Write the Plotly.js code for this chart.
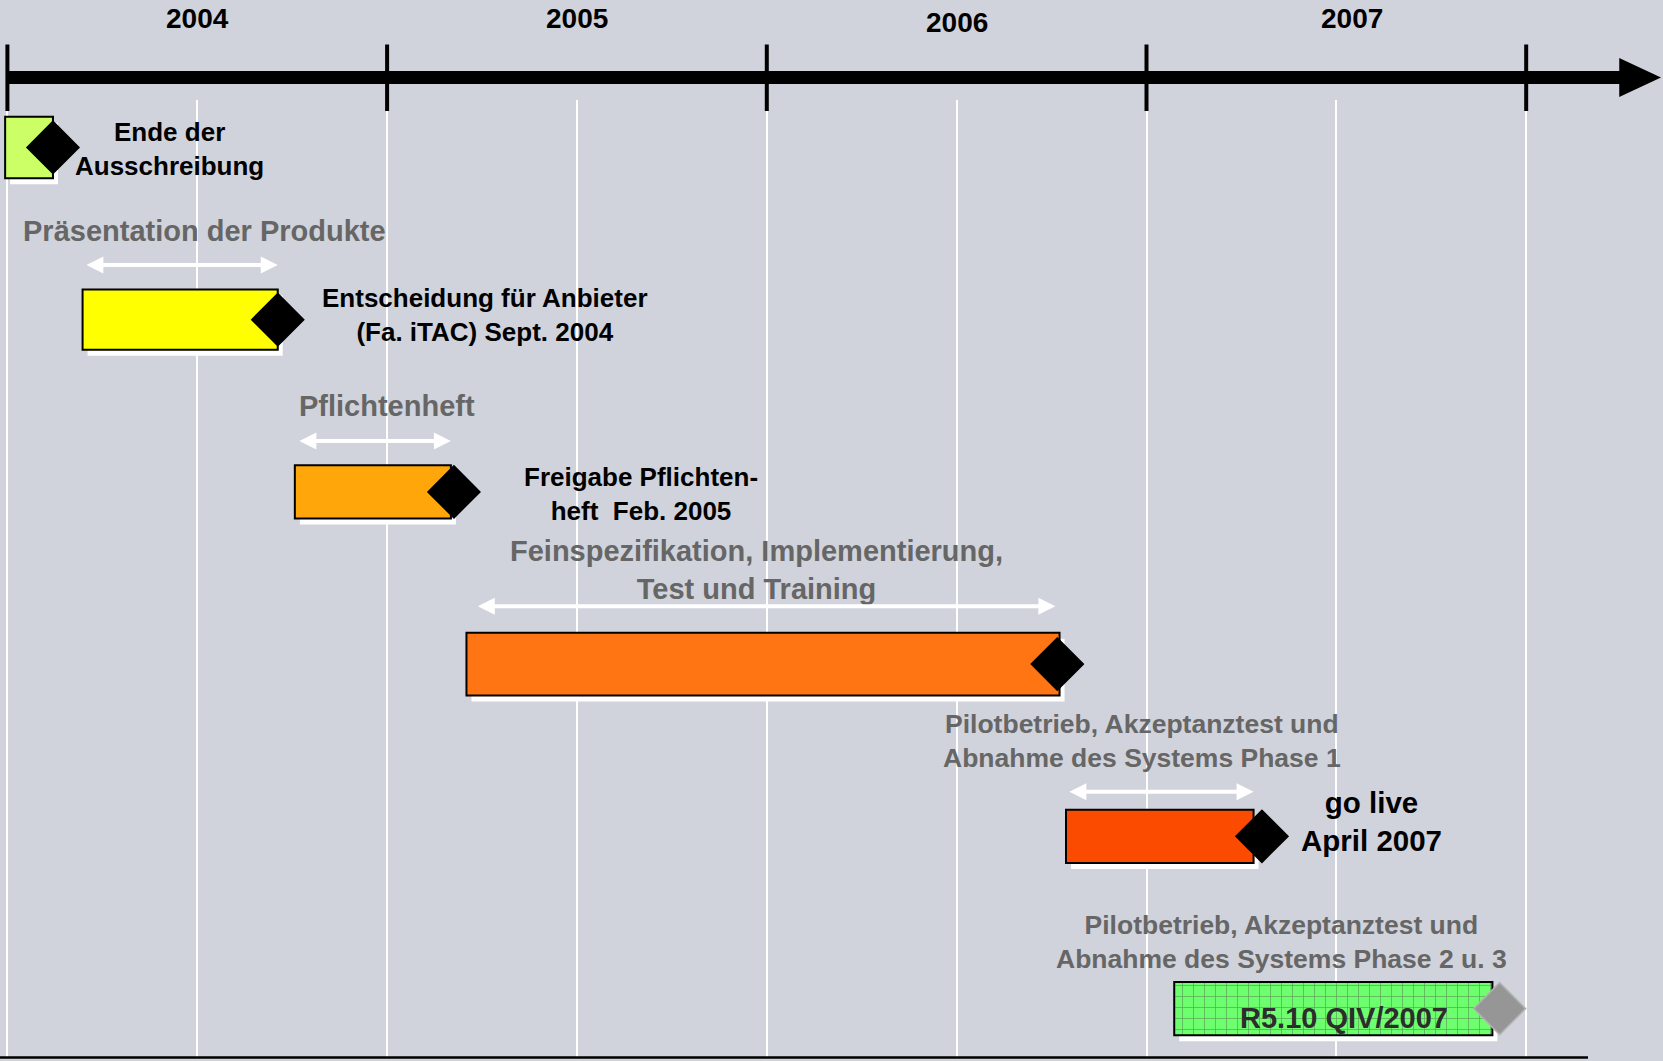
<!DOCTYPE html>
<html>
<head>
<meta charset="utf-8">
<script src="https://cdn.plot.ly/plotly-3.0.1.min.js"></script>
<style>
html,body{margin:0;padding:0;background:rgb(208,211,219);}
#chart{width:1663px;height:1061px;}
</style>
</head>
<body>
<div id="chart"></div>
<script>
// ---------------- DATA ----------------
const phases = ["Ausschreibung", "Präsentation der Produkte", "Pflichtenheft",
  "Feinspezifikation, Implementierung, Test und Training",
  "Pilotbetrieb Phase 1", "Pilotbetrieb Phase 2 u. 3"];
const phaseStart = [2003.994, 2004.198, 2004.757, 2005.209, 2006.788, 2007.073];
const phaseEnd   = [2004.120, 2004.712, 2005.168, 2006.771, 2007.282, 2007.911];
const milestoneDate = [2004.120, 2004.712, 2005.176, 2006.765, 2007.304, 2007.930];
const milestoneText = ["Ende der<br>Ausschreibung",
  "Entscheidung für Anbieter<br>(Fa. iTAC) Sept. 2004",
  "Freigabe Pflichten-<br>heft&nbsp; Feb. 2005",
  "",
  "go live<br>April 2007",
  "R5.10 QIV/2007"];
const phaseLabels = ["",
  "Präsentation der Produkte",
  "Pflichtenheft",
  "Feinspezifikation, Implementierung,<br>Test und Training",
  "Pilotbetrieb, Akzeptanztest und<br>Abnahme des Systems Phase 1",
  "Pilotbetrieb, Akzeptanztest und<br>Abnahme des Systems Phase 2 u. 3"];
const arrowStart = [null, 2004.204, 2004.765, 2005.235, 2006.793, null];
const arrowEnd   = [null, 2004.712, 2005.168, 2006.760, 2007.282, null];
const yearLabels = ["2004", "2005", "2006", "2007"];
const yearStarts = [2004, 2005, 2006, 2007, 2008];

// ---------------- STYLE / LAYOUT ----------------
const rows = phases.map((_, i) => i);
const barColors = ["rgb(204,255,102)", "rgb(255,255,0)", "rgb(255,166,10)",
  "rgb(255,117,20)", "rgb(250,75,0)", "rgb(110,255,110)"];
const barPattern = ["", "", "", "", "", "+"];
const barW = [0.357, 0.351, 0.308, 0.363, 0.308, 0.308];
const diamondColor = ["black", "black", "black", "black", "black", "rgb(150,150,150)"];
const diamondLine = ["black", "black", "black", "black", "black", "rgb(178,178,178)"];
const labelPos = [null,
  {x: 2004.036, dy: -0.514, anchor: "left", size: 29},
  {x: 2004.763, dy: -0.499, anchor: "left", size: 29},
  {x: 2005.972, dy: -0.545, anchor: "center", size: 29},
  {x: 2006.989, dy: -0.554, anchor: "center", size: 26.5},
  {x: 2007.355, dy: -0.388, anchor: "center", size: 26.5}];
const msPos = [
  {x: 2004.427, dy: 0.012, size: 26, color: "black"},
  {x: 2005.257, dy: -0.028, size: 26, color: "black"},
  {x: 2005.668, dy: 0.015, size: 26, color: "black"},
  null,
  {x: 2007.592, dy: -0.089, size: 29.5, color: "black"},
  {x: 2007.520, dy: 0.055, size: 29, color: "rgb(45,45,45)"}];
const arrowDy = [null, -0.317, -0.296, -0.336, -0.259, null];
const yearLabelX = [2004.5, 2005.5, 2006.5, 2007.54];
const yearLabelPx = [19, 19, 23, 19];

const W = 1663, H = 1061, T = 100, B = 1057;
const pxPerYear = 379.7, pxPerRow = 172.24;
const paperY = px => (B - px) / (B - T);
const FONT = "Liberation Sans, Arial, Helvetica, sans-serif";
const BG = "rgb(208,211,219)";

const dur = phaseEnd.map((e, i) => e - phaseStart[i]);
const dx = 5 / pxPerYear, dy = 6 / pxPerRow;

const shadow = {
  type: "bar", orientation: "h", y: rows, x: dur,
  base: phaseStart.map(s => s + dx), width: barW,
  offset: barW.map(w => -w / 2 + dy),
  marker: {color: "white", line: {width: 0}},
  hoverinfo: "skip", showlegend: false
};
const bars = {
  type: "bar", orientation: "h", y: rows, x: dur, base: phaseStart, width: barW,
  marker: {color: barColors, line: {color: "black", width: 2},
    pattern: {shape: barPattern, fillmode: "overlay", fgcolor: "rgb(0,235,0)",
      size: 11, solidity: 0.12}},
  hoverinfo: "skip", showlegend: false
};
const diamonds = {
  type: "scatter", mode: "markers", x: milestoneDate, y: rows,
  marker: {symbol: "diamond", size: 40, color: diamondColor,
    line: {color: diamondLine, width: 1.5}},
  hoverinfo: "skip", showlegend: false
};

const shapes = [];
// main time axis line + arrow head
shapes.push({type: "line", xref: "x", yref: "paper", x0: yearStarts[0], x1: 2008.255,
  y0: paperY(77.5), y1: paperY(77.5), line: {color: "black", width: 13}});
shapes.push({type: "path", xref: "x", yref: "paper",
  path: `M 2008.245,${paperY(58)} L 2008.355,${paperY(77.5)} L 2008.245,${paperY(97)} Z`,
  fillcolor: "black", line: {width: 0}});
yearStarts.forEach(y => shapes.push({type: "line", xref: "x", yref: "paper",
  x0: y, x1: y, y0: paperY(44.5), y1: paperY(111), line: {color: "black", width: 4}}));
shapes.push({type: "line", xref: "paper", yref: "paper", x0: 0, x1: 1588 / W,
  y0: paperY(1057.5), y1: paperY(1057.5), line: {color: "black", width: 2.5}});

const annotations = [];
yearLabels.forEach((t, i) => annotations.push({
  xref: "x", yref: "paper", x: yearLabelX[i], y: paperY(yearLabelPx[i]), text: t, showarrow: false,
  xanchor: "center", yanchor: "middle",
  font: {family: FONT, size: 28, color: "black", weight: 700}}));
phaseLabels.forEach((t, i) => {
  if (!t) return;
  const p = labelPos[i];
  annotations.push({xref: "x", yref: "y", x: p.x, y: i + p.dy, text: t, showarrow: false,
    xanchor: p.anchor, yanchor: "middle", align: "center",
    font: {family: FONT, size: p.size, color: "rgb(102,102,102)", weight: 700}});
});
milestoneText.forEach((t, i) => {
  if (!t) return;
  const p = msPos[i];
  annotations.push({xref: "x", yref: "y", x: p.x, y: i + p.dy, text: t, showarrow: false,
    xanchor: "center", yanchor: "middle", align: "center",
    font: {family: FONT, size: p.size, color: p.color, weight: 700}});
});
arrowStart.forEach((s, i) => {
  if (s === null) return;
  annotations.push({xref: "x", yref: "y", axref: "x", ayref: "y",
    x: arrowEnd[i], y: i + arrowDy[i], ax: s, ay: i + arrowDy[i], text: "",
    showarrow: true, arrowside: "end+start", arrowhead: 2, startarrowhead: 2,
    arrowsize: 0.85, startarrowsize: 0.85, arrowwidth: 4, arrowcolor: "white",
    standoff: 0, startstandoff: 0});
});

const layout = {
  width: W, height: H,
  margin: {l: 0, r: 0, t: T, b: H - B, pad: 0},
  paper_bgcolor: BG, plot_bgcolor: BG,
  barmode: "overlay", showlegend: false,
  xaxis: {range: [2003.9805, 2008.3603], autorange: false, tick0: 2004, dtick: 0.5,
    showgrid: true, gridcolor: "white", gridwidth: 2, zeroline: false,
    showticklabels: false, ticks: "", showline: false, fixedrange: true},
  yaxis: {range: [5.281, -0.2752], autorange: false, showgrid: false, zeroline: false,
    showticklabels: false, ticks: "", showline: false, fixedrange: true},
  shapes: shapes, annotations: annotations
};

Plotly.newPlot("chart", [shadow, bars, diamonds], layout,
  {staticPlot: true, displayModeBar: false});
</script>
</body>
</html>
